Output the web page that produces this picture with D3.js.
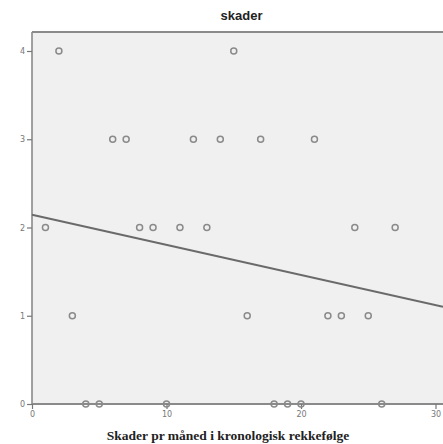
<!DOCTYPE html>
<html><head><meta charset="utf-8">
<script src="https://cdn.jsdelivr.net/npm/d3@7"></script>
<style>body{margin:0;background:#fff}svg{display:block}</style>
</head><body>
<script>
const months = [1,2,3,4,5,6,7,8,9,10,11,12,13,14,15,16,17,18,19,20,21,22,23,24,25,26,27];
const skader = [2,4,1,0,0,3,3,2,2,0,2,3,2,3,4,1,3,0,0,0,3,1,1,2,1,0,2];
const xTicks = [0,10,20,30];
const yTicks = [0,1,2,3,4];
const chartTitle = "skader";
const xLabel = "Skader pr måned i kronologisk rekkefølge";

(function () {
const W = 443, H = 444;
const svg = d3.select("body").append("svg").attr("width", W).attr("height", H);

const x = d3.scaleLinear().domain([0, 30]).range([32, 435.5]);
const y = d3.scaleLinear().domain([0, 4]).range([404, 51]);
const pl = 32, pt = 32, pr = W + 5, pb = 404;

// background
svg.append("rect").attr("x", pl).attr("y", pt).attr("width", pr - pl).attr("height", pb - pt)
  .attr("fill", "#f0f0f0");

// frame
svg.append("line").attr("x1", pl).attr("x2", pr).attr("y1", pt).attr("y2", pt)
  .attr("stroke", "#8a8a8a").attr("stroke-width", 2);
svg.append("line").attr("x1", pl).attr("x2", pl).attr("y1", pt).attr("y2", pb)
  .attr("stroke", "#8a8a8a").attr("stroke-width", 1.6);

// axes
const xAxis = d3.axisBottom(x).tickValues(xTicks).tickSize(5).tickPadding(2).tickFormat(d3.format("d"));
const gx = svg.append("g").attr("transform", `translate(0,${pb})`).call(xAxis);
gx.select(".domain").attr("d", `M${pl},0H${pr}`).attr("stroke", "#8a8a8a").attr("stroke-width", 2);
gx.selectAll(".tick line").attr("stroke", "#777").attr("stroke-width", 1.2);
gx.selectAll("text").attr("fill", "#777").style("font", "8px 'DejaVu Sans', sans-serif");

const yAxis = d3.axisLeft(y).tickValues(yTicks).tickSize(5).tickPadding(2).tickFormat(d3.format("d"));
const gy = svg.append("g").attr("transform", `translate(${pl},0)`).call(yAxis);
gy.select(".domain").remove();
gy.selectAll(".tick line").attr("stroke", "#777").attr("stroke-width", 1.2);
gy.selectAll("text").attr("fill", "#777").style("font", "8px 'DejaVu Sans', sans-serif");

// regression line (least squares from data)
const mx = d3.mean(months), my = d3.mean(skader);
const sxy = d3.sum(months, (m, i) => (m - mx) * (skader[i] - my));
const sxx = d3.sum(months, m => (m - mx) * (m - mx));
const b = sxy / sxx, a = my - b * mx;
const xEnd = x.invert(W);
svg.append("line")
  .attr("x1", x(0)).attr("y1", y(a))
  .attr("x2", x(xEnd)).attr("y2", y(a + b * xEnd))
  .attr("stroke", "#6a6a6a").attr("stroke-width", 2);

// points
svg.append("g").selectAll("circle").data(months).join("circle")
  .attr("cx", d => x(d)).attr("cy", (d, i) => y(skader[i])).attr("r", 3)
  .attr("fill", "none").attr("stroke", "#8a8a8a").attr("stroke-width", 1.5);

// title
svg.append("text").attr("x", 241.5).attr("y", 20).attr("text-anchor", "middle")
  .style("font", "bold 13px 'Liberation Sans', Arial, sans-serif").attr("fill", "#222").text(chartTitle);

// x label
svg.append("text").attr("x", 228).attr("y", 440).attr("text-anchor", "middle")
  .style("font", "bold 13.5px 'Liberation Serif', 'Times New Roman', serif").attr("fill", "#222").text(xLabel);
})();
</script>
</body></html>
